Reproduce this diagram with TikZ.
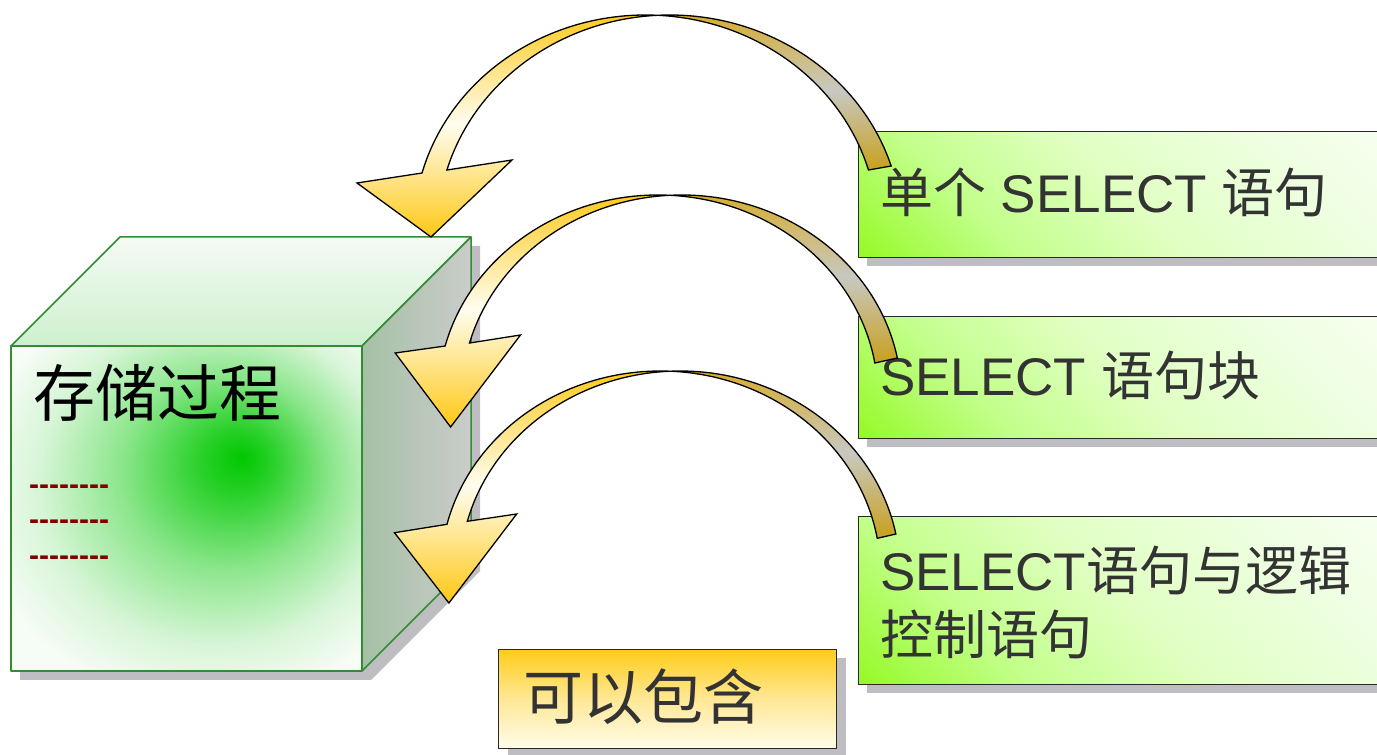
\documentclass[tikz,border=0pt]{standalone}
\usepackage{fontspec}
\setmainfont{Liberation Sans}
\newfontfamily\cjk{Noto Sans CJK SC}
\newfontfamily\dashfont{Liberation Sans}[Ligatures=TeXOff]
\usetikzlibrary{shadows}
\newcommand\zh[1]{{\cjk #1}}
\definecolor{gA}{RGB}{150,250,40}
\definecolor{gB}{RGB}{195,255,140}
\definecolor{gC}{RGB}{225,255,195}
\definecolor{gE}{RGB}{238,255,225}
\definecolor{gD}{RGB}{248,255,242}
\definecolor{c0}{RGB}{0,200,0}
\definecolor{c1}{RGB}{40,208,40}
\definecolor{c2}{RGB}{140,230,140}
\definecolor{c3}{RGB}{215,245,215}
\definecolor{c4}{RGB}{246,252,246}
\definecolor{shadowgray}{RGB}{190,190,194}
\definecolor{cubeedge}{RGB}{50,140,50}
\definecolor{boxline}{RGB}{40,40,40}
\definecolor{txtgray}{RGB}{51,51,51}
\definecolor{dashred}{RGB}{128,0,0}
\definecolor{arrgold}{RGB}{255,200,20}
\definecolor{arrwhite}{RGB}{255,253,240}
\definecolor{bandtop}{RGB}{215,172,40}
\definecolor{bandgray}{RGB}{200,200,194}
\definecolor{bandbot}{RGB}{200,160,28}
\definecolor{goldtop}{RGB}{255,205,25}
\definecolor{goldmid}{RGB}{255,232,150}
\definecolor{goldbot}{RGB}{255,252,235}
\pgfdeclarehorizontalshading{greenbox}{100bp}{color(0bp)=(gA); color(15bp)=(gA); color(32bp)=(gB); color(50bp)=(gC); color(70bp)=(gE); color(86bp)=(gD); color(100bp)=(gD)}
\pgfdeclareradialshading{cubefront}{\pgfpoint{8bp}{8bp}}{color(0bp)=(c0); color(5bp)=(c1); color(15bp)=(c2); color(25bp)=(c3); color(33bp)=(c4); color(50bp)=(c4)}
\tikzset{
  cubeline/.style={draw=cubeedge, line width=1.5pt, line join=round},
  gbox/.style={draw=boxline, line width=1.2pt, shade, shading=greenbox, shading angle=45, inner sep=0pt,
    general shadow={fill=shadowgray, shadow xshift=8pt, shadow yshift=-8pt}},
  goldbox/.style={draw=boxline, line width=1.2pt, top color=goldtop, bottom color=goldbot, middle color=goldmid, inner sep=0pt,
    general shadow={fill=shadowgray, shadow xshift=9pt, shadow yshift=-8pt}},
  boxtext/.style={font=\fontsize{53}{64}\selectfont, text=txtgray, inner sep=0pt},
  dashtext/.style={font=\fontsize{30}{32}\selectfont\dashfont\bfseries, text=dashred, inner sep=0pt},
  frontband/.style={draw=black, line width=1.3pt, line join=miter, top color=arrgold, bottom color=arrgold, middle color=arrwhite},
  backband/.style={draw=black, line width=1.3pt, line join=miter, top color=bandtop, bottom color=bandbot, middle color=bandgray},
}
\begin{document}
\begin{tikzpicture}[x=1pt,y=1pt]
\clip (0,0) rectangle (1377,755);
\fill[white] (0,0) rectangle (1377,755);
% cube
\coordinate (fbl) at (11,84);
\coordinate (ftl) at (11,409);
\coordinate (ftr) at (362,409);
\coordinate (fbr) at (362,84);
\coordinate (btl) at (120,518);
\coordinate (btr) at (471,518);
\coordinate (bbr) at (471,193);
\begin{scope}[transform canvas={shift={(9,-9)}}]
\fill[shadowgray] (fbl) -- (ftl) -- (btl) -- (btr) -- (bbr) -- (fbr) -- cycle;
\end{scope}
\path[cubeline, top color={rgb,255:red,245;green,250;blue,245}, bottom color={rgb,255:red,205;green,240;blue,205}] (ftl) -- (btl) -- (btr) -- (ftr) -- cycle;
\path[cubeline, left color={rgb,255:red,165;green,192;blue,165}, right color={rgb,255:red,202;green,204;blue,202}] (ftr) -- (btr) -- (bbr) -- (fbr) -- cycle;
\path[cubeline, shade, shading=cubefront] (fbl) rectangle (ftr);
\node[anchor=base west, inner sep=0pt, font=\fontsize{62}{70}\selectfont\cjk, text=black] (proc) at (33,338) {存储过程};
\node[dashtext, anchor=base west] (d1) at (29,260.5) {--------};
\node[dashtext, anchor=base west] (d2) at (29,225) {--------};
\node[dashtext, anchor=base west] (d3) at (29,189.5) {--------};
% boxes
\node[gbox, minimum width=540pt, minimum height=126pt, anchor=north west] (b1) at (858,624) {};
\node[gbox, minimum width=540pt, minimum height=122pt, anchor=north west] (b2) at (858,439) {};
\node[gbox, minimum width=540pt, minimum height=168pt, anchor=north west] (b3) at (858,239) {};
\node[goldbox, minimum width=338pt, minimum height=99pt, anchor=north west] (b4) at (498,106) {};
\node[boxtext, anchor=base west] (t1) at (880,542) {\zh{单个} SELECT \zh{语句}};
\node[boxtext, anchor=base west] (t2) at (880,359) {SELECT \zh{语句块}};
\node[boxtext, anchor=north west, align=left] (t3) at (880,209) {SELECT\zh{语句与逻辑}\\\zh{控制语句}};
\node[anchor=base west, inner sep=0pt, font=\fontsize{60}{68}\selectfont\cjk, text=txtgray] (t4) at (523,35) {可以包含};
% arrow 1
\path[backband] ([shift={(669.7,525)}]92.96:232 and 215) arc[start angle=92.96, end angle=17.32, x radius=232, y radius=215]
  -- ([shift={(645.7,525)}]16.2:232 and 215) arc[start angle=16.2, end angle=87.04, x radius=232, y radius=215] -- cycle;
\path[frontband] ([shift={(645.7,525)}]87.04:232 and 215) arc[start angle=87.04, end angle=164.63, x radius=232, y radius=215]
  -- (357,572) -- (431,518) -- (512,595)
  -- ([shift={(669.7,525)}]163.8:232 and 215) arc[start angle=163.8, end angle=92.96, x radius=232, y radius=215] -- cycle;
% arrow 2
\path[backband] ([shift={(681.5,358)}]93.06:220 and 202) arc[start angle=93.06, end angle=11.13, x radius=220, y radius=202]
  -- ([shift={(658,358)}]9.69:220 and 202) arc[start angle=9.69, end angle=86.94, x radius=220, y radius=202] -- cycle;
\path[frontband] ([shift={(658,358)}]86.94:220 and 202) arc[start angle=86.94, end angle=165.38, x radius=220, y radius=202]
  -- (395.2,402) -- (450.6,328) -- (520.5,420)
  -- ([shift={(681.5,358)}]164.5:220 and 202) arc[start angle=164.5, end angle=93.06, x radius=220, y radius=202] -- cycle;
% arrow 3
\path[backband] ([shift={(680,182)}]92.54:220 and 202) arc[start angle=92.54, end angle=11.13, x radius=220, y radius=202]
  -- ([shift={(660.5,182)}]9.89:220 and 202) arc[start angle=9.89, end angle=87.46, x radius=220, y radius=202] -- cycle;
\path[frontband] ([shift={(660.5,182)}]87.46:220 and 202) arc[start angle=87.46, end angle=166.05, x radius=220, y radius=202]
  -- (394.5,222.3) -- (448.9,152) -- (516.7,241)
  -- ([shift={(680,182)}]165.17:220 and 202) arc[start angle=165.17, end angle=92.54, x radius=220, y radius=202] -- cycle;
\end{tikzpicture}
\end{document}
